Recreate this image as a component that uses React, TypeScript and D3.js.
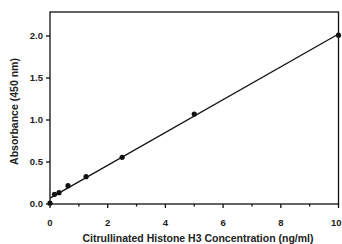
import * as d3 from "d3";
import React from "react";

// standard curve values
const concentrations = [0, 0.156, 0.3125, 0.625, 1.25, 2.5, 5, 10];
const absorbance = [0.01, 0.115, 0.135, 0.218, 0.325, 0.556, 1.07, 2.01];
const xTicks = [0, 2, 4, 6, 8, 10];
const xMinor = [1, 3, 5, 7, 9];
const yTicks = [0, 0.5, 1.0, 1.5, 2.0];

const App = (): React.ReactElement => {
  const chartRef = React.useRef<SVGSVGElement>(null);

  const width = 342;
  const height = 244;
  const margin = { top: 12, right: 4, bottom: 40, left: 50 };

  React.useEffect(() => {
    const svg = d3.select(chartRef.current);
    svg.selectAll("*").remove();

    const x = d3.scaleLinear().domain([0, 10]).range([margin.left, 338.5]);
    const y = d3.scaleLinear().domain([0, 2.0]).range([204, 36]);
    const font = "'Liberation Sans', Arial, sans-serif";

    // frame
    svg
      .append("rect")
      .attr("x", x(0))
      .attr("y", margin.top)
      .attr("width", x(10) - x(0))
      .attr("height", y(0) - margin.top)
      .attr("fill", "none")
      .attr("stroke", "#111")
      .attr("stroke-width", 1.3);

    // x axis
    const gx = svg.append("g").attr("transform", `translate(0, ${y(0)})`);
    gx.selectAll("line.major")
      .data(xTicks)
      .join("line")
      .attr("x1", (d) => x(d))
      .attr("x2", (d) => x(d))
      .attr("y1", 0)
      .attr("y2", 4)
      .attr("stroke", "#111")
      .attr("stroke-width", 1.3);
    gx.selectAll("line.minor")
      .data(xMinor)
      .join("line")
      .attr("x1", (d) => x(d))
      .attr("x2", (d) => x(d))
      .attr("y1", 0)
      .attr("y2", 2.5)
      .attr("stroke", "#111")
      .attr("stroke-width", 1.3);
    // last label kept inside the page edge
    gx.selectAll("text")
      .data(xTicks)
      .join("text")
      .attr("x", (d) => (d === 10 ? width - 0.5 : x(d)))
      .attr("y", 21.5)
      .attr("text-anchor", (d) => (d === 10 ? "end" : "middle"))
      .attr("font-family", font)
      .attr("font-weight", "bold")
      .attr("font-size", 9.5)
      .attr("fill", "#222")
      .text((d) => d3.format("d")(d));

    // y axis
    const gy = svg.append("g").attr("transform", `translate(${x(0)}, 0)`);
    gy.selectAll("line")
      .data(yTicks)
      .join("line")
      .attr("x1", -4)
      .attr("x2", 0)
      .attr("y1", (d) => y(d))
      .attr("y2", (d) => y(d))
      .attr("stroke", "#111")
      .attr("stroke-width", 1.3);
    gy.selectAll("text")
      .data(yTicks)
      .join("text")
      .attr("x", -7)
      .attr("y", (d) => y(d))
      .attr("dy", "0.35em")
      .attr("text-anchor", "end")
      .attr("font-family", font)
      .attr("font-weight", "bold")
      .attr("font-size", 9.5)
      .attr("fill", "#222")
      .text((d) => d3.format(".1f")(d));

    // axis titles
    svg
      .append("text")
      .attr("x", 198)
      .attr("y", 242)
      .attr("text-anchor", "middle")
      .attr("font-family", font)
      .attr("font-weight", "bold")
      .attr("font-size", 10.5)
      .attr("fill", "#222")
      .text("Citrullinated Histone H3 Concentration (ng/ml)");
    svg
      .append("text")
      .attr("transform", `translate(17.5, 111.5) rotate(-90)`)
      .attr("text-anchor", "middle")
      .attr("font-family", font)
      .attr("font-weight", "bold")
      .attr("font-size", 10.5)
      .attr("fill", "#222")
      .text("Absorbance (450 nm)");

    // least-squares fit line
    const n = concentrations.length;
    const mx = d3.mean(concentrations) as number;
    const my = d3.mean(absorbance) as number;
    let sxy = 0;
    let sxx = 0;
    for (let i = 0; i < n; i++) {
      sxy += (concentrations[i] - mx) * (absorbance[i] - my);
      sxx += (concentrations[i] - mx) ** 2;
    }
    const slope = sxy / sxx;
    const intercept = my - slope * mx;
    const line = d3
      .line<number>()
      .x((d) => x(d))
      .y((d) => y(intercept + slope * d));
    svg
      .append("path")
      .datum([0, 10])
      .attr("d", line)
      .attr("fill", "none")
      .attr("stroke", "#111")
      .attr("stroke-width", 1.3);

    // points
    svg
      .selectAll("circle")
      .data(concentrations)
      .join("circle")
      .attr("cx", (d) => x(d))
      .attr("cy", (_, i) => y(absorbance[i]))
      .attr("r", 2.6)
      .attr("fill", "#111");
  }, []);

  return (
    <svg
      ref={chartRef}
      width={width}
      height={height}
      style={{ position: "absolute", left: 0, top: 0, background: "#fff" }}
    ></svg>
  );
};

export default App;
